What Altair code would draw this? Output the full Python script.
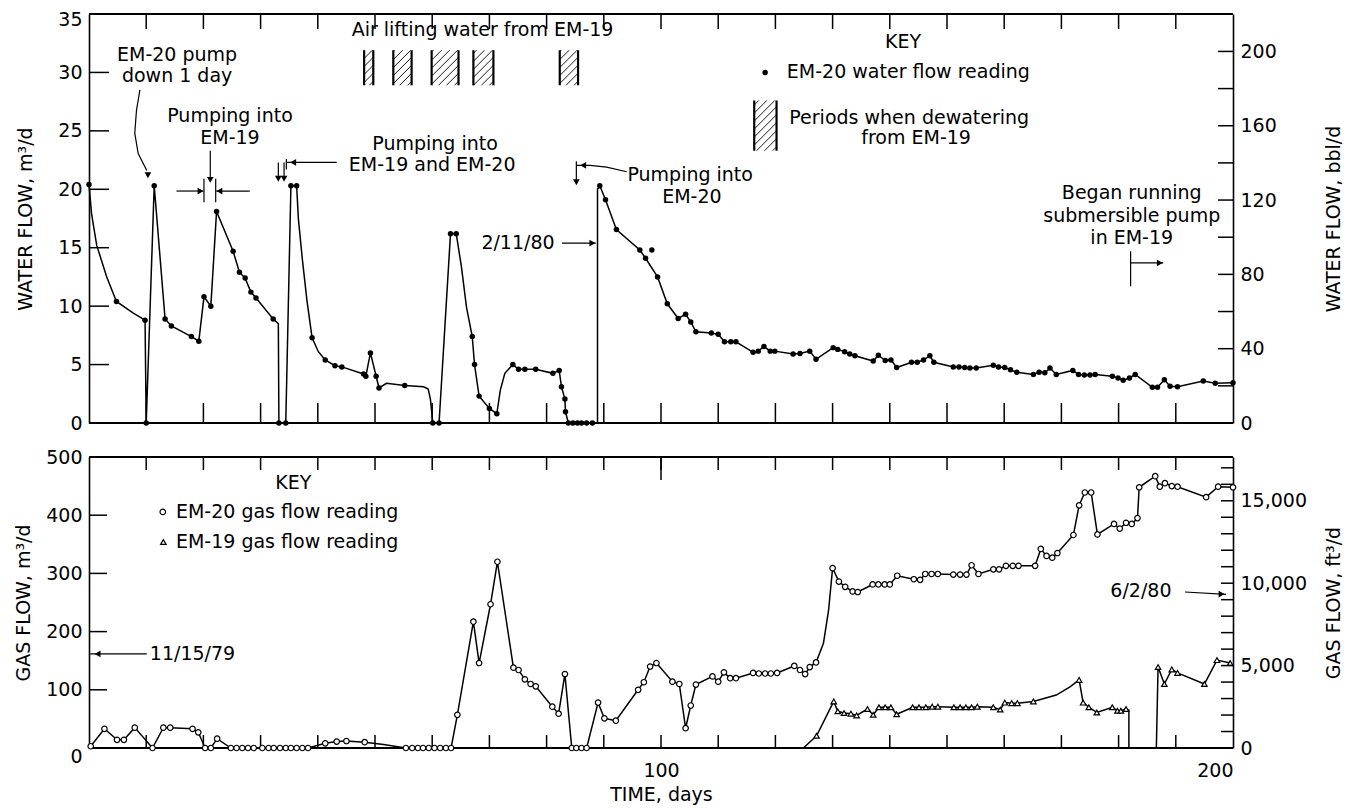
import altair as alt
import pandas as pd

FONT = "DejaVu Sans"
W = 1144            # plot width (days 0..200)
H = 734             # total plot height (both panels)
WATER_RANGE = [409, 0]
GAS_RANGE = [734, 443]
M3_TO_BBL = 6.2898
M3_TO_FT3 = 35.3147

# ---------------- water flow, EM-20 (m3/d) ----------------
water_day = [0, 0.45, 1.35, 3.1, 4.8, 7.75, 9.8, 10.0, 11.4, 13.3,
             14.4, 17.9, 19.2, 20.1, 21.3, 22.3, 25.2, 26.3, 27.3, 28.3,
             29.2, 32.2, 33.1, 33.2, 34.4, 35.3, 36.3, 36.6, 37.3, 38.1,
             39.0, 40.1, 41.3, 43.0, 44.2, 48.0, 48.4, 49.2, 50.2, 50.7,
             52.0, 55.2, 58.5, 59.3, 59.7, 60.1, 61.2, 63.2, 64.2, 65.1,
             66.0, 67.0, 67.4, 68.2, 70.0, 71.3, 71.9, 72.7, 74.1, 75.1,
             76.2, 78.1, 81.1, 82.2, 82.6, 83.2, 83.3, 83.8, 84.6, 85.4,
             86.1, 87.0, 88.0, 88.9, 88.9, 89.3, 90.3, 92.2, 96.3, 97.3,
             99.4, 101.1, 103.0, 104.3, 105.2, 106.1, 108.8, 110.0, 111.1, 112.2,
             113.1, 116.1, 117.0, 118.0, 119.1, 119.9, 123.1, 124.3, 126.0, 127.1,
             130.1, 130.9, 132.1, 133.0, 133.9, 137.1, 138.0, 139.2, 140.2, 141.2,
             143.8, 144.8, 145.9, 147.0, 147.7, 151.1, 152.1, 153.1, 154.0, 155.1,
             158.1, 159.0, 160.1, 161.1, 162.2, 165.1, 166.1, 167.1, 168.0, 169.1,
             172.0, 173.0, 174.0, 175.0, 175.9, 178.9, 179.9, 180.8, 181.9, 182.9,
             185.9, 186.8, 188.0, 189.0, 190.3, 194.8, 196.9, 200]
water_flow = [20.4, 17.9, 15.2, 12.5, 10.4, 9.4, 8.8, 0, 20.3, 8.9,
              8.3, 7.4, 7.0, 10.8, 10.0, 18.1, 14.7, 12.9, 12.4, 11.2,
              10.7, 8.9, 8.5, 0, 0, 20.3, 20.3, 17.5, 14.0, 10.5,
              7.3, 6.1, 5.4, 4.9, 4.8, 4.2, 4.0, 6.0, 4.0, 3.0,
              3.4, 3.2, 3.1, 2.9, 2.0, 0, 0, 16.2, 16.2, 13.4,
              9.9, 7.4, 5.0, 2.3, 1.25, 0.8, 2.8, 4.25, 5.0, 4.6,
              4.6, 4.6, 4.25, 4.5, 3.1, 2.05, 0.97, 0, 0, 0,
              0, 0, 0, 0, 20.0, 20.3, 19.1, 16.55, 14.8, 14.1,
              12.5, 10.2, 8.95, 9.3, 8.65, 7.8, 7.7, 7.6, 6.95, 6.95,
              6.95, 6.05, 6.15, 6.55, 6.15, 6.15, 5.9, 5.95, 6.15, 5.45,
              6.45, 6.3, 6.1, 5.9, 5.75, 5.3, 5.8, 5.35, 5.4, 4.75,
              5.2, 5.2, 5.4, 5.75, 5.2, 4.8, 4.8, 4.75, 4.7, 4.7,
              4.95, 4.8, 4.75, 4.55, 4.35, 4.15, 4.35, 4.3, 4.7, 4.15,
              4.5, 4.15, 4.1, 4.1, 4.15, 4.0, 3.85, 3.65, 3.85, 4.15,
              3.05, 3.05, 3.7, 3.15, 3.1, 3.6, 3.4, 3.45]
water_marked = [1, 0, 0, 0, 1, 0, 1, 1, 1, 1,
                1, 1, 1, 1, 1, 1, 1, 1, 1, 1,
                1, 1, 0, 1, 1, 1, 1, 0, 0, 0,
                1, 0, 1, 1, 1, 1, 1, 1, 1, 1,
                0, 1, 0, 0, 0, 1, 1, 1, 1, 0,
                0, 1, 1, 1, 1, 1, 0, 0, 1, 1,
                1, 1, 1, 1, 1, 1, 1, 1, 1, 1,
                1, 1, 1, 0, 0, 1, 1, 1, 1, 1,
                1, 1, 1, 1, 1, 1, 1, 1, 1, 1,
                1, 1, 1, 1, 1, 1, 1, 1, 1, 1,
                1, 1, 1, 1, 1, 1, 1, 1, 1, 1,
                1, 1, 1, 1, 1, 1, 1, 1, 1, 1,
                1, 1, 1, 1, 1, 1, 1, 1, 1, 1,
                1, 1, 1, 1, 1, 1, 1, 1, 1, 1,
                1, 1, 1, 1, 1, 1, 1, 1]
water_extra_day = [98.4]
water_extra_flow = [14.8]

# ---------------- gas flow (m3/d) ----------------
em20_day = [0.3, 2.7, 4.9, 6.1, 8.0, 11.1, 13.0, 14.2, 18.1, 19.1,
            20.3, 21.3, 22.4, 24.8, 25.8, 26.8, 27.8, 28.8, 30.3, 31.4,
            32.3, 33.4, 34.4, 35.3, 36.3, 37.3, 38.3, 41.3, 43.3, 45.0,
            48.2, 51.5, 55.4, 56.5, 57.5, 58.4, 59.4, 60.4, 61.4, 62.4,
            63.3, 64.4, 67.2, 68.2, 70.2, 71.4, 74.2, 75.1, 76.2, 77.2,
            78.1, 81.0, 82.1, 83.2, 84.4, 85.2, 86.1, 87.0, 89.0, 90.1,
            92.1, 96.0, 97.0, 98.1, 99.2, 102.0, 103.2, 104.3, 105.2, 106.1,
            109.0, 110.0, 111.0, 112.1, 113.1, 116.1, 117.1, 118.2, 119.2, 120.3,
            123.3, 124.3, 125.2, 126.0, 127.1, 128.4, 129.3, 130.0, 131.1, 132.2,
            133.5, 134.4, 137.0, 138.0, 139.1, 140.0, 141.3, 144.2, 145.3, 146.2,
            147.3, 148.4, 151.1, 152.3, 153.4, 154.3, 155.5, 158.1, 159.1, 160.3,
            161.5, 162.5, 165.4, 166.4, 167.4, 168.4, 169.3, 172.1, 173.1, 174.1,
            175.2, 176.3, 179.2, 180.2, 181.3, 182.3, 183.3, 183.6, 186.4, 187.2,
            188.1, 189.3, 190.3, 195.3, 197.4, 200.0]
em20_gas = [3, 33, 14, 14, 35, 0, 35, 35, 33, 27,
            0, 0, 16, 0, 0, 0, 0, 0, 0, 0,
            0, 0, 0, 0, 0, 0, 0, 8, 11, 12,
            10, 6, 0, 0, 0, 0, 0, 0, 0, 0,
            0, 57, 217, 146, 247, 320, 138, 134, 118, 110,
            106, 71, 59, 127, 0, 0, 0, 0, 78, 51,
            47, 100, 113, 140, 146, 114, 110, 34, 73, 109,
            123, 114, 130, 120, 120, 129, 128, 128, 128, 129,
            141, 134, 127, 139, 147, 180, 237, 309, 286, 277,
            269, 268, 281, 281, 281, 281, 296, 290, 289, 299,
            299, 299, 298, 298, 298, 314, 299, 307, 307, 313,
            313, 313, 313, 342, 330, 327, 335, 366, 417, 439,
            439, 367, 385, 377, 387, 385, 395, 448, 467, 449,
            455, 450, 449, 431, 449, 448]
em20_marked = [1, 1, 1, 1, 1, 1, 1, 1, 1, 1,
               1, 1, 1, 1, 1, 1, 1, 1, 1, 1,
               1, 1, 1, 1, 1, 1, 1, 1, 1, 1,
               1, 0, 1, 1, 1, 1, 1, 1, 1, 1,
               1, 1, 1, 1, 1, 1, 1, 1, 1, 1,
               1, 1, 1, 1, 1, 1, 1, 1, 1, 1,
               1, 1, 1, 1, 1, 1, 1, 1, 1, 1,
               1, 1, 1, 1, 1, 1, 1, 1, 1, 1,
               1, 1, 1, 1, 1, 0, 0, 1, 1, 1,
               1, 1, 1, 1, 1, 1, 1, 1, 1, 1,
               1, 1, 1, 1, 1, 1, 1, 1, 1, 1,
               1, 1, 1, 1, 1, 1, 1, 1, 1, 1,
               1, 1, 1, 1, 1, 1, 1, 1, 1, 1,
               1, 1, 1, 1, 1, 1]

em19_day = [124.9, 127.2, 130.2, 130.9, 132.0, 133.2, 134.2, 136.1, 137.1, 138.1,
            139.2, 140.2, 141.2, 144.0, 145.1, 146.3, 147.4, 148.4, 151.2, 152.3,
            153.3, 154.3, 155.3, 158.1, 159.3, 160.1, 161.3, 162.3, 165.1, 169.1,
            171.5, 173.1, 173.8, 174.8, 176.2, 178.9, 179.8, 180.4, 181.3, 181.8,
            181.8, 186.6, 186.9, 188.0, 189.3, 190.3, 195.0, 197.2, 199.5]
em19_gas = [0, 21, 80, 63, 60, 59, 56, 67, 57, 70,
            70, 70, 58, 70, 70, 70, 71, 71, 70, 70,
            70, 70, 71, 70, 66, 78, 77, 77, 80, 91,
            105, 117, 78, 70, 61, 70, 64, 64, 67, 65,
            0, 0, 139, 110, 135, 129, 110, 151, 146]
em19_marked = [0, 1, 1, 1, 1, 1, 1, 1, 1, 1,
               1, 1, 1, 1, 1, 1, 1, 1, 1, 1,
               1, 1, 1, 1, 1, 1, 1, 1, 1, 0,
               0, 1, 1, 1, 1, 1, 1, 1, 1, 0,
               0, 0, 1, 1, 1, 1, 1, 1, 1]

# ---------------- periods of air lifting (hatched) ----------------
airlift_start = [48.1, 53.2, 59.9, 67.2, 82.3]
airlift_end = [49.7, 56.4, 64.6, 70.7, 85.5]
airlift_low, airlift_high = 28.9, 31.9
key_hatch = [116.3, 120.2, 23.3, 27.6]

# ---------------- annotations ----------------
water_text = ["EM-20 pump", "down 1 day", "Pumping into", "EM-19",
              "Pumping into", "EM-19 and EM-20", "Pumping into", "EM-20",
              "2/11/80", "Began running", "submersible pump", "in EM-19",
              "Air lifting water from EM-19", "KEY", "EM-20 water flow reading",
              "Periods when dewatering", "from EM-19"]
water_text_day = [15.4, 15.4, 24.65, 24.65, 60.5, 60.0, 105.1, 105.4, 75.0, 182.3,
                  182.3, 182.3, 68.8, 142.3, 122.0, 143.4, 144.6]
water_text_val = [31.45, 29.7, 26.3, 24.4, 23.85, 22.05, 21.2, 19.3, 15.4, 19.66,
                  17.7, 15.8, 33.6, 32.6, 30.0, 26.1, 24.4]
water_text_align = ["center"] * 14 + ["left", "center", "center"]

gas_text = ["KEY", "EM-20 gas flow reading", "EM-19 gas flow reading", "11/15/79", "6/2/80"]
gas_text_day = [35.7, 15.2, 15.2, 18.1, 183.9]
gas_text_val = [455, 405.7, 354, 161.7, 270]
gas_text_align = ["center", "left", "left", "center", "center"]

water_arrow_id = [1, 1, 1, 1, 1, 2, 2, 3, 3, 4, 4, 5, 5, 6, 6, 7, 7, 8, 8,
                  9, 9, 10, 10, 11, 11, 11, 11, 12, 12, 13, 13, 14, 14, 15, 15]
water_arrow_day = [8.9, 8.3, 8.0, 8.6, 10.1, 21.2, 21.2, 20.1, 20.1, 22.15, 22.15,
                   15.3, 20.0, 28.1, 22.25, 43.3, 34.5, 34.5, 34.5,
                   33.1, 33.1, 34.1, 34.1, 94.0, 90.5, 87.6, 85.3, 85.2, 85.2,
                   82.7, 88.6, 182.1, 182.1, 182.1, 187.8]
water_arrow_val = [28.5, 26.75, 24.8, 23.05, 21.6, 23.3, 20.9, 20.9, 18.9, 20.9, 18.9,
                   19.85, 19.85, 19.85, 19.85, 22.3, 22.3, 22.6, 21.7,
                   22.3, 21.0, 22.3, 21.0, 21.5, 21.9, 22.05, 22.05, 22.4, 20.7,
                   15.4, 15.4, 14.7, 11.7, 13.7, 13.7]
water_head_day = [10.3, 21.2, 19.5, 22.8, 35.7, 33.1, 34.1, 86.4, 85.2, 88.0, 187.2]
water_head_val = [21.2, 20.8, 19.85, 19.85, 22.3, 20.9, 20.9, 22.05, 20.6, 15.4, 13.7]
water_head_shape = ["triangle-down", "triangle-down", "triangle-right", "triangle-left",
                    "triangle-left", "triangle-down", "triangle-down", "triangle-left",
                    "triangle-down", "triangle-right", "triangle-right"]

gas_arrow_id = [1, 1, 2, 2]
gas_arrow_day = [10.1, 0.2, 191.6, 198.8]
gas_arrow_val = [161.7, 161.7, 268, 264]
gas_head_day = [1.5, 198.0]
gas_head_val = [161.7, 264.5]
gas_head_shape = ["triangle-left", "triangle-right"]

# axis tick values
x_label_values = [100, 200]
x_tick_days = list(range(10, 200, 10))
water_axis_values = [0, 5, 10, 15, 20, 25, 30, 35]
water_inner_ticks = [5, 10, 15, 20, 25, 30]
bbl_axis_values = [0, 40, 80, 120, 160, 200]
bbl_inner_ticks = [20, 40, 60, 80, 100, 120, 140, 160, 180, 200, 220]
gas_axis_values = [0, 100, 200, 300, 400, 500]
gas_inner_ticks = [100, 200, 300, 400]
ft3_axis_values = [0, 5000, 10000, 15000]
ft3_inner_ticks = list(range(1000, 18000, 1000))

# ---------------- frames ----------------
water_df = pd.DataFrame({"day": water_day, "v": water_flow, "m": water_marked})
water_df["i"] = range(len(water_df))
water_extra_df = pd.DataFrame({"day": water_extra_day, "v": water_extra_flow})
em20_df = pd.DataFrame({"day": em20_day, "v": em20_gas, "m": em20_marked})
em20_df["i"] = range(len(em20_df))
em19_df = pd.DataFrame({"day": em19_day, "v": em19_gas, "m": em19_marked})
em19_df["i"] = range(len(em19_df))

SX = W / 200.0
SY = (WATER_RANGE[0] - WATER_RANGE[1]) / 35.0


def hatch(x0, x1, y0, y1, step=8.0):
    w = (x1 - x0) * SX
    h = (y1 - y0) * SY
    segs = []
    c = -w + step / 2
    while c < h:
        u0 = max(0.0, -c)
        u1 = min(w, h - c)
        if u1 > u0:
            segs.append((x0 + u0 / SX, y0 + (u0 + c) / SY, x0 + u1 / SX, y0 + (u1 + c) / SY))
        c += step
    return segs


rects = list(zip(airlift_start, airlift_end, [airlift_low] * 5, [airlift_high] * 5))
rects.append(tuple(key_hatch))
hatch_rows = []
edge_rows = []
for (a, b, lo, hi) in rects:
    hatch_rows += hatch(a, b, lo, hi)
    edge_rows += [(a, lo, hi), (b, lo, hi)]
hatch_df = pd.DataFrame(hatch_rows, columns=["x", "y", "x2", "y2"])
edge_df = pd.DataFrame(edge_rows, columns=["x", "y", "y2"])

wtext_df = pd.DataFrame({"t": water_text, "day": water_text_day, "v": water_text_val, "a": water_text_align})
gtext_df = pd.DataFrame({"t": gas_text, "day": gas_text_day, "v": gas_text_val, "a": gas_text_align})
warrow_df = pd.DataFrame({"id": water_arrow_id, "day": water_arrow_day, "v": water_arrow_val})
warrow_df["i"] = range(len(warrow_df))
garrow_df = pd.DataFrame({"id": gas_arrow_id, "day": gas_arrow_day, "v": gas_arrow_val})
garrow_df["i"] = range(len(garrow_df))
whead_df = pd.DataFrame({"day": water_head_day, "v": water_head_val, "s": water_head_shape})
ghead_df = pd.DataFrame({"day": gas_head_day, "v": gas_head_val, "s": gas_head_shape})

# ---------------- scales & axes ----------------
AX = dict(grid=False, labelFont=FONT, titleFont=FONT, labelFontSize=19, titleFontSize=19,
          labelColor="black", titleColor="black", titleFontWeight="normal",
          domainColor="black", domainWidth=1.6, ticks=False)

xs = alt.Scale(domain=[0, 200], nice=False, zero=False)
x_axis = alt.Axis(values=x_label_values, title="TIME, days", domain=False,
                  labelPadding=13, titlePadding=5, **AX)

ws = alt.Scale(domain=[0, 35], range=WATER_RANGE, nice=False, zero=False)
w_axis = alt.Axis(values=water_axis_values, title="WATER FLOW, m³/d", orient="left",
                  labelPadding=7, titleX=-64, titleBaseline="middle",
                  labelOffset={"expr": "datum.value == 35 ? 5 : 0"}, **AX)
bs = alt.Scale(domain=[0, 35 * M3_TO_BBL], range=WATER_RANGE, nice=False, zero=False)
b_axis = alt.Axis(values=bbl_axis_values, title="WATER FLOW, bbl/d", orient="right",
                  labelPadding=7, titleX=100, titleAngle=270, titleBaseline="middle", **AX)
gs = alt.Scale(domain=[0, 500], range=GAS_RANGE, nice=False, zero=False)
g_axis = alt.Axis(values=gas_axis_values, title="GAS FLOW, m³/d", orient="left",
                  labelPadding=7, titleX=-66, titleBaseline="middle",
                  labelOffset={"expr": "datum.value == 0 ? 8 : 0"}, **AX)
fs = alt.Scale(domain=[0, 500 * M3_TO_FT3], range=GAS_RANGE, nice=False, zero=False)
f_axis = alt.Axis(values=ft3_axis_values, title="GAS FLOW, ft³/d", orient="right", format=",d",
                  labelPadding=7, titleX=100, titleAngle=270, titleBaseline="middle", **AX)


def X(field=None, datum=None):
    if datum is not None:
        return alt.X(datum=datum, type="quantitative", scale=xs, axis=x_axis)
    return alt.X(field, type="quantitative", scale=xs, axis=x_axis)


def mkY(scale, axis):
    def Y(field=None, datum=None):
        if datum is not None:
            return alt.Y(datum=datum, type="quantitative", scale=scale, axis=axis)
        return alt.Y(field, type="quantitative", scale=scale, axis=axis)
    return Y


WY, BY, GY, FY = mkY(ws, w_axis), mkY(bs, b_axis), mkY(gs, g_axis), mkY(fs, f_axis)

LINE = dict(color="black", strokeWidth=1.5)
FRAME = dict(color="black", strokeWidth=1.6)
TICK = dict(color="black", thickness=1.5, opacity=1)
TXT = dict(font=FONT, fontSize=19, color="black", baseline="middle")

xticks_df = pd.DataFrame({"day": x_tick_days})


def panel_frame(Y, top, bottom, top_len, bottom_len, long100=False):
    base = alt.Chart(xticks_df)
    layers = [
        alt.Chart(xticks_df).mark_rule(**FRAME).encode(x=X(datum=0), x2=alt.X2(datum=200), y=Y(datum=top)),
        alt.Chart(xticks_df).mark_rule(**FRAME).encode(x=X(datum=0), x2=alt.X2(datum=200), y=Y(datum=bottom)),
        base.mark_tick(orient="vertical", size=top_len, yOffset=top_len / 2, **TICK).encode(
            x=X("day"), y=Y(datum=top)),
        base.mark_tick(orient="vertical", size=bottom_len, yOffset=-bottom_len / 2, **TICK).encode(
            x=X("day"), y=Y(datum=bottom)),
    ]
    if long100:
        layers.append(base.transform_filter("datum.day == 100").mark_tick(
            orient="vertical", size=23, yOffset=11.5, **TICK).encode(x=X("day"), y=Y(datum=top)))
    return layers


# ---------------- water panel ----------------
wl = alt.Chart(water_df)
water_layers = panel_frame(WY, 35, 0, 15, 20) + [
    alt.Chart(pd.DataFrame({"v": water_inner_ticks})).mark_tick(
        orient="horizontal", size=20, xOffset=10, **TICK).encode(x=X(datum=0), y=WY("v")),
    wl.mark_line(**LINE).encode(x=X("day"), y=WY("v"), order="i:Q"),
    wl.transform_filter("datum.m == 1").mark_point(filled=True, color="black", size=30, opacity=1).encode(
        x=X("day"), y=WY("v")),
    alt.Chart(water_extra_df).mark_point(filled=True, color="black", size=30, opacity=1).encode(
        x=X("day"), y=WY("v")),
    alt.Chart(hatch_df).mark_rule(color="black", strokeWidth=0.9).encode(
        x=X("x"), x2=alt.X2("x2"), y=WY("y"), y2=alt.Y2("y2")),
    alt.Chart(edge_df).mark_rule(color="black", strokeWidth=2.2).encode(
        x=X("x"), y=WY("y"), y2=alt.Y2("y2")),
    alt.Chart(pd.DataFrame({"day": [118.2], "v": [30.0]})).mark_point(
        filled=True, color="black", size=30, opacity=1).encode(x=X("day"), y=WY("v")),
    alt.Chart(wtext_df).transform_filter("datum.a == 'center'").mark_text(align="center", **TXT).encode(
        x=X("day"), y=WY("v"), text="t:N"),
    alt.Chart(wtext_df).transform_filter("datum.a == 'left'").mark_text(align="left", **TXT).encode(
        x=X("day"), y=WY("v"), text="t:N"),
    alt.Chart(warrow_df).mark_line(color="black", strokeWidth=1.2).encode(
        x=X("day"), y=WY("v"), detail="id:N", order="i:Q"),
    alt.Chart(whead_df).mark_point(filled=True, color="black", size=45, opacity=1).encode(
        x=X("day"), y=WY("v"), shape=alt.Shape("s:N", scale=None)),
]
water_group = alt.layer(*water_layers)

bbl_group = alt.layer(
    alt.Chart(pd.DataFrame({"v": bbl_inner_ticks})).mark_tick(
        orient="horizontal", size=15, xOffset=-7.5, **TICK).encode(x=X(datum=200), y=BY("v"))
)

# ---------------- gas panel ----------------
g20 = alt.Chart(em20_df)
g19 = alt.Chart(em19_df)
OPEN = dict(filled=True, fill="white", stroke="black", strokeWidth=1.2, size=30, opacity=1)
gas_layers = panel_frame(GY, 500, 0, 13, 13, long100=True) + [
    alt.Chart(pd.DataFrame({"v": gas_inner_ticks})).mark_tick(
        orient="horizontal", size=18, xOffset=9, **TICK).encode(x=X(datum=0), y=GY("v")),
    g20.mark_line(**LINE).encode(x=X("day"), y=GY("v"), order="i:Q"),
    g19.mark_line(**LINE).encode(x=X("day"), y=GY("v"), order="i:Q"),
    g20.transform_filter("datum.m == 1").mark_point(shape="circle", **OPEN).encode(x=X("day"), y=GY("v")),
    g19.transform_filter("datum.m == 1").mark_point(shape="triangle-up", **OPEN).encode(x=X("day"), y=GY("v")),
    alt.Chart(pd.DataFrame({"day": [12.9], "v": [405.7]})).mark_point(shape="circle", **OPEN).encode(
        x=X("day"), y=GY("v")),
    alt.Chart(pd.DataFrame({"day": [13.0], "v": [354]})).mark_point(shape="triangle-up", **OPEN).encode(
        x=X("day"), y=GY("v")),
    alt.Chart(gtext_df).transform_filter("datum.a == 'center'").mark_text(align="center", **TXT).encode(
        x=X("day"), y=GY("v"), text="t:N"),
    alt.Chart(gtext_df).transform_filter("datum.a == 'left'").mark_text(align="left", **TXT).encode(
        x=X("day"), y=GY("v"), text="t:N"),
    alt.Chart(garrow_df).mark_line(color="black", strokeWidth=1.2).encode(
        x=X("day"), y=GY("v"), detail="id:N", order="i:Q"),
    alt.Chart(ghead_df).mark_point(filled=True, color="black", size=45, opacity=1).encode(
        x=X("day"), y=GY("v"), shape=alt.Shape("s:N", scale=None)),
]
gas_group = alt.layer(*gas_layers)

ft3_group = alt.layer(
    alt.Chart(pd.DataFrame({"v": ft3_inner_ticks})).mark_tick(
        orient="horizontal", size=12, xOffset=-6, **TICK).encode(x=X(datum=200), y=FY("v"))
)

chart = alt.layer(water_group, bbl_group, gas_group, ft3_group).resolve_scale(
    y="independent"
).properties(
    width=W, height=H,
    autosize=alt.AutoSizeParams(type="none"),
    padding={"left": 81, "top": 6, "right": 111, "bottom": 62},
    background="white",
).configure_view(strokeWidth=0)

chart.save("out.html", embed_options={"renderer": "svg", "actions": False})
